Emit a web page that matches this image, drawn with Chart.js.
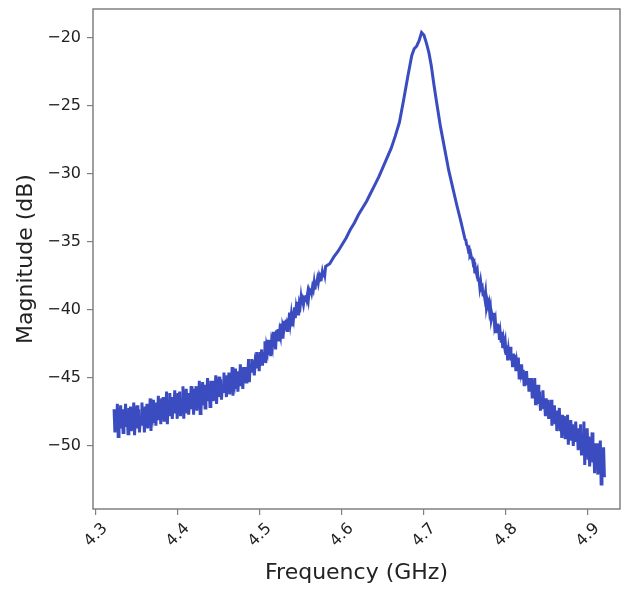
<!DOCTYPE html>
<html>
<head>
<meta charset="utf-8">
<script src="https://cdn.jsdelivr.net/npm/chart.js@4.4.1/dist/chart.umd.min.js"></script>
<style>
  html, body { margin: 0; padding: 0; background: #fff; }
  #wrap { width: 622px; height: 590px; }
</style>
</head>
<body>
<div id="wrap"><canvas id="resonance-chart"></canvas></div>
<script>
// Resonator transmission trace.
// Sweep points are kept in MHz, converted to GHz for the x axis.

const freqMHz = [
  4322, 4323, 4324, 4325, 4326, 4327, 4328, 4329, 4330, 4331,
  4332, 4333, 4334, 4335, 4336, 4337, 4338, 4339, 4340, 4341,
  4342, 4343, 4344, 4345, 4346, 4347, 4348, 4349, 4350, 4351,
  4352, 4353, 4354, 4355, 4356, 4357, 4358, 4359, 4360, 4361,
  4362, 4363, 4364, 4365, 4366, 4367, 4368, 4369, 4370, 4371,
  4372, 4373, 4374, 4375, 4376, 4377, 4378, 4379, 4380, 4381,
  4382, 4383, 4384, 4385, 4386, 4387, 4388, 4389, 4390, 4391,
  4392, 4393, 4394, 4395, 4396, 4397, 4398, 4399, 4400, 4401,
  4402, 4403, 4404, 4405, 4406, 4407, 4408, 4409, 4410, 4411,
  4412, 4413, 4414, 4415, 4416, 4417, 4418, 4419, 4420, 4421,
  4422, 4423, 4424, 4425, 4426, 4427, 4428, 4429, 4430, 4431,
  4432, 4433, 4434, 4435, 4436, 4437, 4438, 4439, 4440, 4441,
  4442, 4443, 4444, 4445, 4446, 4447, 4448, 4449, 4450, 4451,
  4452, 4453, 4454, 4455, 4456, 4457, 4458, 4459, 4460, 4461,
  4462, 4463, 4464, 4465, 4466, 4467, 4468, 4469, 4470, 4471,
  4472, 4473, 4474, 4475, 4476, 4477, 4478, 4479, 4480, 4481,
  4482, 4483, 4484, 4485, 4486, 4487, 4488, 4489, 4490, 4491,
  4492, 4493, 4494, 4495, 4496, 4497, 4498, 4499, 4500, 4501,
  4502, 4503, 4504, 4505, 4506, 4507, 4508, 4509, 4510, 4511,
  4512, 4513, 4514, 4515, 4516, 4517, 4518, 4519, 4520, 4521,
  4522, 4523, 4524, 4525, 4526, 4527, 4528, 4529, 4530, 4531,
  4532, 4533, 4534, 4535, 4536, 4537, 4538, 4539, 4540, 4541,
  4542, 4543, 4544, 4545, 4546, 4547, 4548, 4549, 4550, 4551,
  4552, 4553, 4554, 4555, 4556, 4557, 4558, 4559, 4560, 4561,
  4562, 4563, 4564, 4565, 4566, 4567, 4568, 4569, 4570, 4571,
  4572, 4573, 4574, 4575, 4576, 4577, 4578, 4579, 4580,
  4585, 4590, 4595, 4600, 4605, 4610, 4615, 4620, 4625, 4630,
  4635, 4640, 4645, 4650, 4655, 4660, 4665, 4670, 4675, 4680,
  4685, 4688, 4691, 4694, 4697, 4700, 4703, 4706, 4709, 4712,
  4715, 4720, 4725, 4730, 4735, 4740, 4745, 4750,
  4751, 4752, 4753, 4754, 4755, 4756, 4757, 4758, 4759, 4760,
  4761, 4762, 4763, 4764, 4765, 4766, 4767, 4768, 4769, 4770,
  4771, 4772, 4773, 4774, 4775, 4776, 4777, 4778, 4779, 4780,
  4781, 4782, 4783, 4784, 4785, 4786, 4787, 4788, 4789, 4790,
  4791, 4792, 4793, 4794, 4795, 4796, 4797, 4798, 4799, 4800,
  4801, 4802, 4803, 4804, 4805, 4806, 4807, 4808, 4809, 4810,
  4811, 4812, 4813, 4814, 4815, 4816, 4817, 4818, 4819, 4820,
  4821, 4822, 4823, 4824, 4825, 4826, 4827, 4828, 4829, 4830,
  4831, 4832, 4833, 4834, 4835, 4836, 4837, 4838, 4839, 4840,
  4841, 4842, 4843, 4844, 4845, 4846, 4847, 4848, 4849, 4850,
  4851, 4852, 4853, 4854, 4855, 4856, 4857, 4858, 4859, 4860,
  4861, 4862, 4863, 4864, 4865, 4866, 4867, 4868, 4869, 4870,
  4871, 4872, 4873, 4874, 4875, 4876, 4877, 4878, 4879, 4880,
  4881, 4882, 4883, 4884, 4885, 4886, 4887, 4888, 4889, 4890,
  4891, 4892, 4893, 4894, 4895, 4896, 4897, 4898, 4899, 4900,
  4901, 4902, 4903, 4904, 4905, 4906, 4907, 4908, 4909, 4910,
  4911, 4912, 4913, 4914, 4915, 4916, 4917, 4918, 4919, 4920
];

const magDb = [
  -47.3, -49.0, -47.8, -48.6, -46.9, -49.3, -47.5, -48.0, -47.0, -48.7,
  -47.3, -49.0, -47.8, -48.3, -46.9, -48.6, -47.6, -49.1, -47.2, -48.2,
  -47.1, -48.9, -47.7, -48.5, -46.8, -49.2, -47.5, -48.0, -47.0, -48.7,
  -47.3, -49.0, -47.8, -48.3, -46.8, -48.5, -47.5, -49.0, -47.1, -48.1,
  -46.9, -48.7, -47.5, -48.3, -46.5, -48.9, -47.2, -47.6, -46.6, -48.3,
  -46.8, -48.5, -47.3, -47.8, -46.3, -48.0, -47.0, -48.4, -46.5, -47.5,
  -46.4, -48.1, -46.9, -47.7, -46.0, -48.4, -46.6, -47.1, -46.1, -47.8,
  -46.4, -48.0, -46.8, -47.3, -45.9, -47.6, -46.5, -48.0, -46.1, -47.1,
  -46.0, -47.8, -46.6, -47.4, -45.6, -48.0, -46.3, -46.8, -45.8, -47.5,
  -46.1, -47.7, -46.5, -47.0, -45.6, -47.3, -46.2, -47.7, -45.8, -46.8,
  -45.6, -47.4, -46.2, -47.0, -45.2, -47.6, -45.9, -46.3, -45.3, -47.0,
  -45.5, -47.2, -46.0, -46.5, -45.0, -46.7, -45.7, -47.1, -45.2, -46.2,
  -45.2, -46.7, -45.6, -46.3, -44.8, -46.9, -45.3, -45.8, -44.9, -46.4,
  -45.1, -46.6, -45.5, -46.0, -44.6, -46.1, -45.2, -46.4, -44.8, -45.7,
  -44.6, -46.2, -45.1, -45.8, -44.2, -46.3, -44.8, -45.2, -44.3, -45.8,
  -44.5, -46.0, -44.9, -45.4, -44.0, -45.5, -44.6, -45.8, -44.2, -44.9,
  -44.2, -45.3, -44.4, -44.9, -43.6, -45.3, -44.0, -44.4, -43.6, -44.6,
  -43.7, -44.8, -43.9, -44.2, -43.1, -44.3, -43.5, -44.5, -43.1, -43.7,
  -42.9, -44.1, -43.1, -43.6, -42.3, -43.9, -42.7, -43.0, -42.2, -43.2,
  -42.2, -43.4, -42.4, -42.7, -41.6, -42.7, -42.0, -42.9, -41.5, -42.1,
  -41.4, -42.3, -41.6, -41.9, -41.0, -42.0, -41.2, -41.4, -40.8, -41.5,
  -40.7, -41.5, -40.9, -41.0, -40.2, -40.9, -40.4, -41.1, -40.1, -40.5,
  -39.8, -40.6, -39.9, -40.3, -39.4, -40.4, -39.5, -39.7, -39.1, -39.6,
  -39.3, -39.6, -39.2, -39.3, -38.9, -39.2, -38.8, -39.2, -38.6, -38.8,
  -38.4, -38.7, -38.3, -38.5, -38.0, -38.5, -38.0, -38.0, -37.7, -38.0,
  -37.6, -37.9, -37.5, -37.6, -37.2, -37.5, -37.1, -37.4, -36.8,
  -36.6, -36.1, -35.7, -35.2, -34.7, -34.1, -33.6, -33.0, -32.5, -32.0,
  -31.4, -30.8, -30.2, -29.5, -28.8, -28.1, -27.2, -26.2, -24.6, -22.9,
  -21.3, -20.8, -20.6, -20.2, -19.6, -19.8, -20.4, -21.1, -22.1, -23.4,
  -24.6, -26.5, -28.1, -29.7, -31.0, -32.3, -33.5, -34.8,
  -34.9, -35.2, -35.3, -35.6, -35.5, -36.0, -35.9, -36.2, -36.2, -36.6,
  -36.5, -37.3, -37.0, -37.3, -37.1, -37.8, -37.7, -38.3, -37.9, -38.4,
  -38.3, -38.9, -38.7, -39.1, -38.7, -39.7, -39.3, -39.6, -39.4, -40.1,
  -39.8, -40.7, -40.4, -40.7, -40.2, -41.1, -40.8, -41.7, -41.0, -41.6,
  -41.1, -42.2, -41.7, -42.3, -41.6, -42.8, -42.2, -42.6, -42.3, -43.2,
  -42.6, -43.7, -43.0, -43.5, -42.7, -43.7, -43.2, -44.2, -43.2, -43.9,
  -43.3, -44.5, -43.9, -44.4, -43.5, -45.0, -44.0, -44.5, -44.0, -45.1,
  -44.4, -45.5, -44.8, -45.3, -44.5, -45.5, -45.0, -46.0, -45.0, -45.7,
  -45.0, -46.5, -45.5, -46.2, -45.0, -47.0, -45.8, -46.2, -45.5, -46.9,
  -46.0, -47.4, -46.4, -46.9, -45.9, -47.3, -46.6, -47.8, -46.5, -47.4,
  -46.6, -48.0, -47.1, -47.8, -46.6, -48.5, -47.3, -47.8, -47.0, -48.4,
  -47.4, -48.9, -47.9, -48.4, -47.2, -48.8, -47.9, -49.4, -47.7, -48.7,
  -47.8, -49.4, -48.4, -49.1, -47.7, -49.9, -48.4, -48.9, -48.1, -49.6,
  -48.4, -50.0, -48.9, -49.5, -48.2, -49.7, -48.9, -50.3, -48.7, -49.6,
  -48.4, -50.7, -49.2, -50.2, -48.2, -51.4, -49.1, -49.9, -48.7, -50.9,
  -49.3, -51.5, -50.0, -50.8, -49.0, -51.2, -50.1, -52.0, -49.8, -51.1,
  -49.8, -52.1, -50.6, -51.6, -49.6, -52.8, -50.5, -51.3, -50.1, -52.3
];

const xTicks = [4.3, 4.4, 4.5, 4.6, 4.7, 4.8, 4.9];
const yTicks = [-50, -45, -40, -35, -30, -25, -20];

const xLabel = 'Frequency (GHz)';
const yLabel = 'Magnitude (dB)';

const FONT = 'DejaVu Sans';
const TEXT = '#222222';
const SPINE = '#808080';

// frame on all four sides plus the tilted x tick labels
const framePlugin = {
  id: 'frame',
  afterDraw(chart) {
    const { ctx, chartArea: a } = chart;
    ctx.save();
    ctx.strokeStyle = SPINE;
    ctx.lineWidth = 1.5;
    ctx.strokeRect(a.left, a.top, a.right - a.left, a.bottom - a.top);

    const xs = chart.scales.x;
    ctx.fillStyle = TEXT;
    ctx.font = '16px "' + FONT + '"';
    ctx.textAlign = 'center';
    ctx.textBaseline = 'middle';
    xTicks.forEach(v => {
      ctx.save();
      ctx.translate(xs.getPixelForValue(v), a.bottom + 26);
      ctx.rotate(-Math.PI / 4);
      ctx.fillText(v.toFixed(1), 0, 0);
      ctx.restore();
    });
    ctx.restore();
  }
};

const ctx = document.getElementById('resonance-chart');
new Chart(ctx, {
  type: 'line',
  data: {
    datasets: [{
      data: freqMHz.map((f, i) => ({ x: f / 1000, y: magDb[i] })),
      borderColor: '#3b4cc0',
      borderWidth: 3,
      pointRadius: 0,
      tension: 0,
      fill: false
    }]
  },
  options: {
    responsive: true,
    maintainAspectRatio: false,
    animation: false,
    layout: { padding: { left: 0, right: 2, top: 9, bottom: 0 } },
    plugins: {
      legend: { display: false },
      tooltip: { enabled: false }
    },
    scales: {
      x: {
        type: 'linear',
        min: 4.2963,
        max: 4.939,
        afterBuildTicks: s => { s.ticks = xTicks.map(v => ({ value: v })); },
        afterFit: s => { s.height = 81; s.paddingLeft = 0; s.paddingRight = 0; },
        ticks: { display: false },
        grid: { drawOnChartArea: false, color: SPINE, tickLength: 6, lineWidth: 1.2 },
        border: { display: false },
        title: {
          display: true,
          text: xLabel,
          color: TEXT,
          font: { family: FONT, size: 22 },
          padding: { top: 4, bottom: 4 }
        }
      },
      y: {
        type: 'linear',
        min: -54.63,
        max: -17.87,
        afterBuildTicks: s => { s.ticks = yTicks.map(v => ({ value: v })); },
        afterFit: s => { s.width = 93; s.paddingTop = 0; s.paddingBottom = 0; },
        ticks: {
          color: TEXT,
          padding: 6,
          font: { family: FONT, size: 16 },
          callback: v => String(v).replace('-', '\u2212')
        },
        grid: { drawOnChartArea: false, color: SPINE, tickLength: 6, lineWidth: 1.2 },
        border: { display: false },
        title: {
          display: true,
          text: yLabel,
          color: TEXT,
          font: { family: FONT, size: 22 },
          padding: { top: 13, bottom: 0 }
        }
      }
    }
  },
  plugins: [framePlugin]
});
</script>
</body>
</html>
